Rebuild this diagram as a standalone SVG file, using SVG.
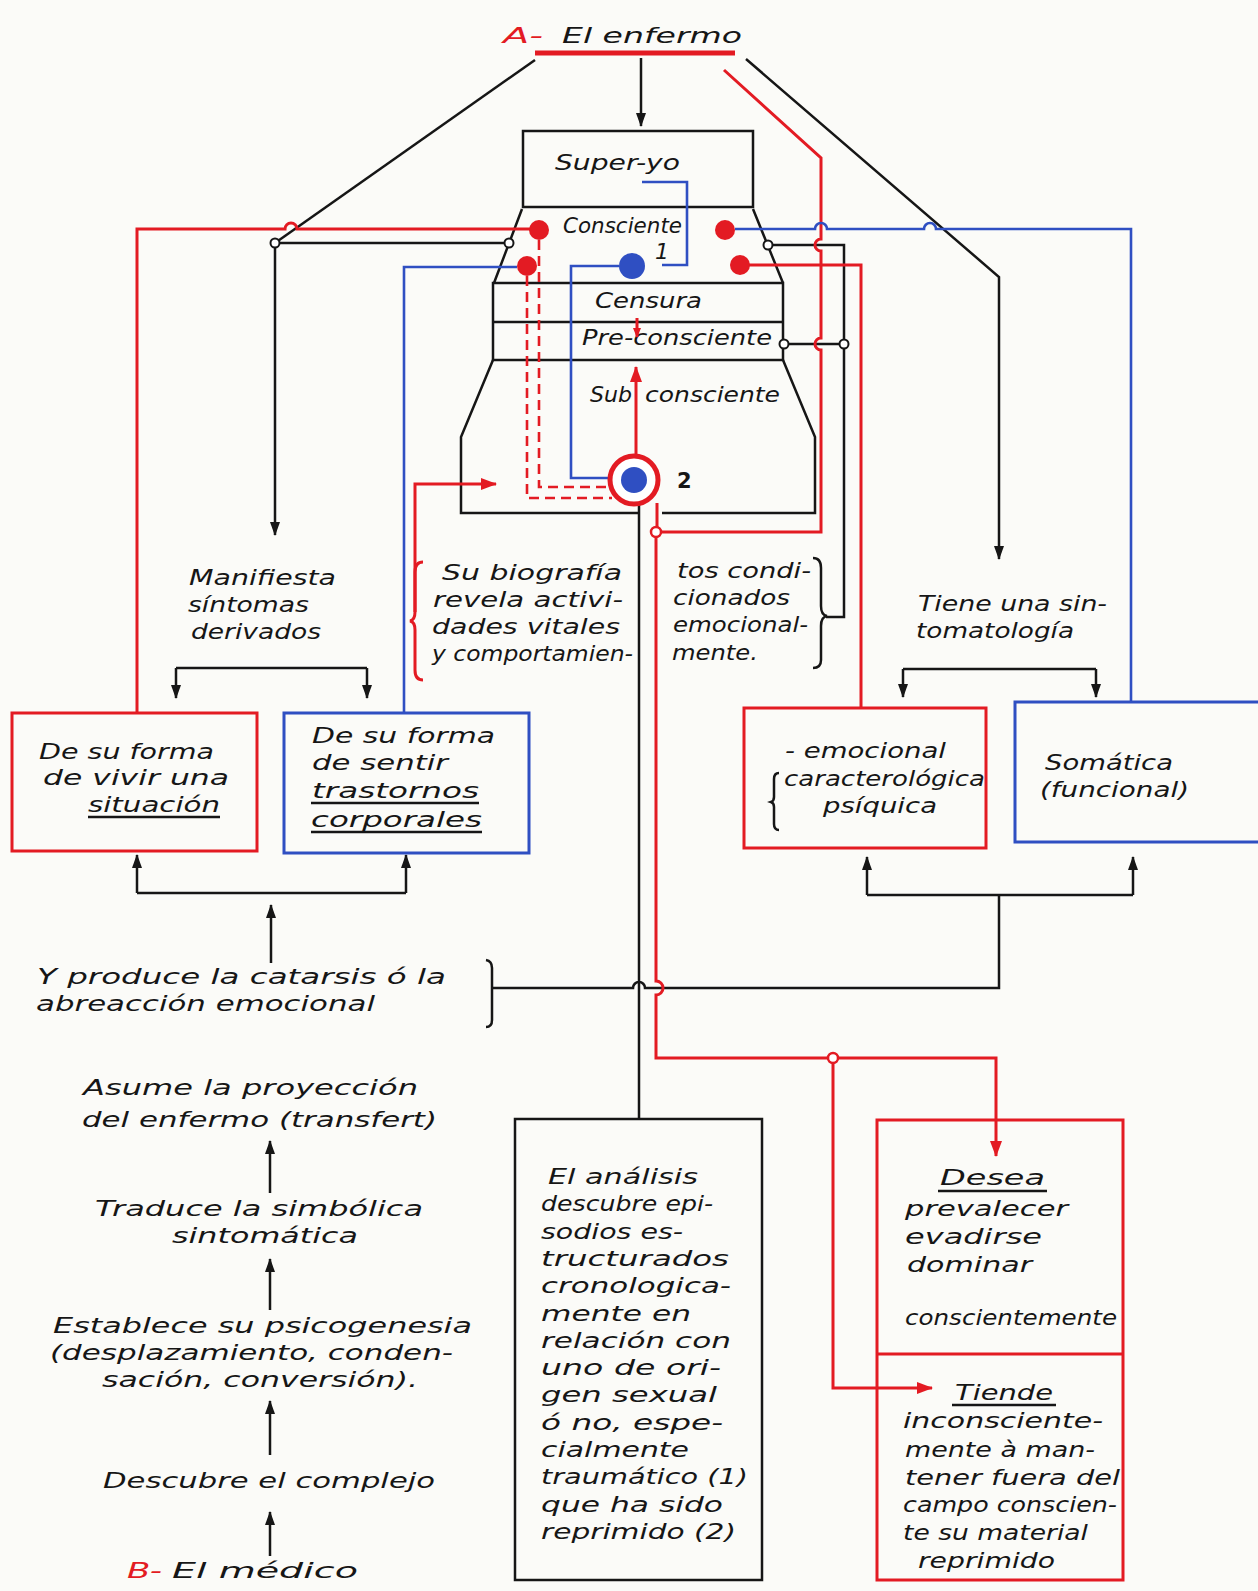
<svg xmlns="http://www.w3.org/2000/svg" width="1258" height="1591" viewBox="0 0 1258 1591">
<style>
.k{stroke:#161616;stroke-width:2.5;fill:none}
.r{stroke:#e31b23;stroke-width:3;fill:none}
.b{stroke:#2f4fc2;stroke-width:2.6;fill:none}
.d{stroke:#e31b23;stroke-width:2.6;fill:none;stroke-dasharray:10 6}
.t{font-family:"DejaVu Sans","Liberation Sans",Arial,sans-serif;font-style:oblique;font-size:22px;fill:#161616}
.tr{fill:#e31b23}
.jk{fill:#fff;stroke:#161616;stroke-width:2}
.jr{fill:#fff;stroke:#e31b23;stroke-width:2.5}
.dr{fill:#e31b23}
.db{fill:#2f4fc2}
</style>
<defs>
<marker id="ak" markerWidth="14" markerHeight="12" refX="13" refY="6" orient="auto" markerUnits="userSpaceOnUse"><path d="M0,1 L14,6 L0,11 z" fill="#161616"/></marker>
<marker id="ar" markerWidth="16" markerHeight="14" refX="15" refY="7" orient="auto" markerUnits="userSpaceOnUse"><path d="M0,1 L16,7 L0,13 z" fill="#e31b23"/></marker>
<marker id="ar2" markerWidth="10" markerHeight="10" refX="9" refY="5" orient="auto" markerUnits="userSpaceOnUse"><path d="M0,1 L10,5 L0,9 z" fill="#e31b23"/></marker>
</defs>
<rect width="1258" height="1591" fill="#fbfbf8"/>

<g id="title">
<text class="t tr" x="503" y="43" font-size="34" textLength="40" lengthAdjust="spacingAndGlyphs">A-</text>
<text class="t" x="562" y="43" font-size="32" textLength="180" lengthAdjust="spacingAndGlyphs">El enfermo</text>
<path d="M535,53 H735" stroke="#e31b23" stroke-width="5"/>
</g>

<g id="psyche">
<rect class="k" x="523" y="131" width="230" height="76"/>
<text class="t" x="555" y="170" font-size="24" textLength="125" lengthAdjust="spacingAndGlyphs">Super-yo</text>
<path class="k" d="M522,209 L494,283 M753,209 L783,283"/>
<text class="t" x="563" y="233" textLength="119" lengthAdjust="spacingAndGlyphs">Consciente</text>
<text class="t" x="655" y="259" font-size="17">1</text>
<rect class="k" x="493" y="283" width="290" height="77"/>
<path class="k" d="M493,322 H783"/>
<text class="t" x="595" y="308" textLength="107" lengthAdjust="spacingAndGlyphs">Censura</text>
<text class="t" x="582" y="345" textLength="190" lengthAdjust="spacingAndGlyphs">Pre-consciente</text>
<path class="k" d="M493,360 L461,437 V513 H640 M662,513 H815 V437 L783,360"/>
<text class="t" x="590" y="402" textLength="42" lengthAdjust="spacingAndGlyphs">Sub</text>
<text class="t" x="645" y="402" textLength="135" lengthAdjust="spacingAndGlyphs">consciente</text>
<text x="677" y="488" font-family="DejaVu Sans,Liberation Sans,Arial,sans-serif" font-weight="bold" font-size="21" fill="#161616">2</text>
</g>

<g id="connectors">
<path class="k" d="M641,58 V126" marker-end="url(#ak)"/>
<path class="k" d="M535,60 L275,243"/>
<path class="k" d="M275,243 H509"/>
<path class="k" d="M275,243 V535" marker-end="url(#ak)"/>
<path class="k" d="M746,59 L999,277 V559" marker-end="url(#ak)"/>
<path class="k" d="M768,245 H844 V617 H826"/>
<path class="k" d="M784,344 H844"/>
<path class="k" d="M813,558 Q821,558 821,568 V606 Q821,615 827,616 Q821,617 821,626 V660 Q821,668 813,668"/>
<path class="k" d="M639,505 V1119"/>
<path class="k" d="M486,960 Q492,961 492,968 V1020 Q492,1027 486,1027"/>
<path class="k" d="M492,988 H633 A6,6 0 0 1 645,988 H999 V895"/>
<path class="k" d="M867,895 H1133"/>
<path class="k" d="M867,895 V857" marker-end="url(#ak)"/>
<path class="k" d="M1133,895 V857" marker-end="url(#ak)"/>
<path class="k" d="M137,893 H406"/>
<path class="k" d="M137,893 V855" marker-end="url(#ak)"/>
<path class="k" d="M406,893 V855" marker-end="url(#ak)"/>
<path class="k" d="M271,963 V905" marker-end="url(#ak)"/>
<path class="k" d="M176,668 H367"/>
<path class="k" d="M176,668 V698" marker-end="url(#ak)"/>
<path class="k" d="M367,668 V698" marker-end="url(#ak)"/>
<path class="k" d="M903,669 H1096"/>
<path class="k" d="M903,669 V697" marker-end="url(#ak)"/>
<path class="k" d="M1096,669 V697" marker-end="url(#ak)"/>
<path class="k" d="M270,1193 V1141" marker-end="url(#ak)"/>
<path class="k" d="M270,1310 V1259" marker-end="url(#ak)"/>
<path class="k" d="M270,1455 V1401" marker-end="url(#ak)"/>
<path class="k" d="M270,1556 V1512" marker-end="url(#ak)"/>
<circle class="jk" cx="275" cy="243" r="4.5"/>
<circle class="jk" cx="509" cy="243" r="4.5"/>
<circle class="jk" cx="768" cy="245" r="4.5"/>
<circle class="jk" cx="784" cy="344" r="4.5"/>
<circle class="jk" cx="844" cy="344" r="4.5"/>
<path class="r" d="M539,229 H297 A6,6 0 0 0 285,229 H137 V713"/>
<path class="r" d="M724,70 L821,158 V239 A6,6 0 0 0 821,251 V338 A6,6 0 0 0 821,350 V532 H661"/>
<path class="r" d="M740,265 H861 V708"/>
<path class="d" d="M539,240 V487 H607"/>
<path class="d" d="M527,276 V498 H612"/>
<path class="r" d="M636,456 V367" marker-end="url(#ar)"/>
<path class="r" stroke-width="2.5" d="M637,318 V337" marker-end="url(#ar2)"/>
<path class="r" d="M657,503 V527"/>
<path class="r" d="M656,537 V981 A7,7 0 0 1 656,995 V1058 H828 M838,1058 H996 V1156" marker-end="url(#ar)"/>
<path class="r" d="M833,1063 V1388 H932" marker-end="url(#ar)"/>
<path class="r" d="M423,562 Q415,562 415,572 V612 Q415,620 410,621 Q415,622 415,630 V670 Q415,680 423,680"/>
<path class="r" d="M415,612 V484 H496" marker-end="url(#ar)"/>
<circle class="jr" cx="656" cy="532" r="5"/>
<circle class="jr" cx="833" cy="1058" r="5"/>
<path class="b" d="M642,182 H687 V265 H662"/>
<path class="b" d="M619,266 H571 V478 H621"/>
<path class="b" d="M517,267 H404 V713"/>
<path class="b" d="M735,229 H815 A6,6 0 0 1 827,229 H924 A6,6 0 0 1 936,229 H1131 V702"/>
<circle class="dr" cx="539" cy="230" r="10"/>
<circle class="dr" cx="527" cy="266" r="10"/>
<circle class="dr" cx="725" cy="230" r="10"/>
<circle class="dr" cx="740" cy="265" r="10"/>
<circle class="db" cx="632" cy="266" r="13"/>
<circle cx="634" cy="480" r="24" fill="#fff" stroke="#e31b23" stroke-width="5"/>
<circle class="db" cx="634" cy="480" r="13"/>
</g>

<g id="manifiesta">
<text class="t" x="189" y="585" textLength="147" lengthAdjust="spacingAndGlyphs">Manifiesta</text>
<text class="t" x="188" y="612" textLength="121" lengthAdjust="spacingAndGlyphs">síntomas</text>
<text class="t" x="191" y="639" textLength="130" lengthAdjust="spacingAndGlyphs">derivados</text>
</g>

<g id="biografia">
<text class="t" x="442" y="580" textLength="180" lengthAdjust="spacingAndGlyphs">Su biografía</text>
<text class="t" x="433" y="607" textLength="190" lengthAdjust="spacingAndGlyphs">revela activi-</text>
<text class="t" x="432" y="634" textLength="188" lengthAdjust="spacingAndGlyphs">dades vitales</text>
<text class="t" x="432" y="661" textLength="201" lengthAdjust="spacingAndGlyphs">y comportamien-</text>
<text class="t" x="677" y="578" textLength="134" lengthAdjust="spacingAndGlyphs">tos condi-</text>
<text class="t" x="673" y="605" textLength="117" lengthAdjust="spacingAndGlyphs">cionados</text>
<text class="t" x="673" y="632" textLength="135" lengthAdjust="spacingAndGlyphs">emocional-</text>
<text class="t" x="672" y="660" textLength="86" lengthAdjust="spacingAndGlyphs">mente.</text>
</g>

<g id="sintomatologia">
<text class="t" x="918" y="611" textLength="189" lengthAdjust="spacingAndGlyphs">Tiene una sin-</text>
<text class="t" x="916" y="638" textLength="158" lengthAdjust="spacingAndGlyphs">tomatología</text>
</g>

<g id="box-vivir">
<rect x="12" y="713" width="245" height="138" fill="none" stroke="#e31b23" stroke-width="3"/>
<text class="t" x="39" y="759" textLength="175" lengthAdjust="spacingAndGlyphs">De su forma</text>
<text class="t" x="43" y="785" textLength="186" lengthAdjust="spacingAndGlyphs">de vivir una</text>
<text class="t" x="88" y="812" textLength="132" lengthAdjust="spacingAndGlyphs">situación</text>
<path class="k" d="M88,817 H220"/>
</g>

<g id="box-sentir">
<rect x="284" y="713" width="245" height="140" fill="none" stroke="#2f4fc2" stroke-width="3"/>
<text class="t" x="312" y="743" textLength="183" lengthAdjust="spacingAndGlyphs">De su forma</text>
<text class="t" x="312" y="770" textLength="136" lengthAdjust="spacingAndGlyphs">de sentir</text>
<text class="t" x="312" y="798" textLength="167" lengthAdjust="spacingAndGlyphs">trastornos</text>
<path class="k" d="M311,803 H479"/>
<text class="t" x="311" y="827" textLength="171" lengthAdjust="spacingAndGlyphs">corporales</text>
<path class="k" d="M311,832 H482"/>
</g>

<g id="box-emocional">
<rect x="744" y="708" width="242" height="140" fill="none" stroke="#e31b23" stroke-width="3"/>
<text class="t" x="785" y="758" textLength="161" lengthAdjust="spacingAndGlyphs">- emocional</text>
<text class="t" x="784" y="786" textLength="201" lengthAdjust="spacingAndGlyphs">caracterológica</text>
<text class="t" x="823" y="813" textLength="114" lengthAdjust="spacingAndGlyphs">psíquica</text>
<path class="k" stroke-width="2" d="M779,773 Q774,773 774,779 V797 Q774,801 771,802 Q774,803 774,807 V824 Q774,830 779,830"/>
</g>

<g id="box-somatica">
<path d="M1262,702 H1015 V842 H1262" fill="none" stroke="#2f4fc2" stroke-width="3"/>
<text class="t" x="1045" y="770" textLength="128" lengthAdjust="spacingAndGlyphs">Somática</text>
<text class="t" x="1040" y="797" textLength="149" lengthAdjust="spacingAndGlyphs">(funcional)</text>
</g>

<g id="catarsis">
<text class="t" x="37" y="984" textLength="409" lengthAdjust="spacingAndGlyphs">Y produce la catarsis ó la</text>
<text class="t" x="36" y="1011" textLength="339" lengthAdjust="spacingAndGlyphs">abreacción emocional</text>
</g>

<g id="medico-chain">
<text class="t" x="83" y="1095" textLength="335" lengthAdjust="spacingAndGlyphs">Asume la proyección</text>
<text class="t" x="82" y="1127" textLength="355" lengthAdjust="spacingAndGlyphs">del enfermo (transfert)</text>
<text class="t" x="95" y="1216" textLength="328" lengthAdjust="spacingAndGlyphs">Traduce la simbólica</text>
<text class="t" x="172" y="1243" textLength="186" lengthAdjust="spacingAndGlyphs">sintomática</text>
<text class="t" x="53" y="1333" textLength="419" lengthAdjust="spacingAndGlyphs">Establece su psicogenesia</text>
<text class="t" x="50" y="1360" textLength="403" lengthAdjust="spacingAndGlyphs">(desplazamiento, conden-</text>
<text class="t" x="102" y="1387" textLength="316" lengthAdjust="spacingAndGlyphs">sación, conversión).</text>
<text class="t" x="103" y="1488" textLength="332" lengthAdjust="spacingAndGlyphs">Descubre el complejo</text>
<text class="t tr" x="127" y="1578" font-size="30" textLength="35" lengthAdjust="spacingAndGlyphs">B-</text>
<text class="t" x="172" y="1578" font-size="28" textLength="186" lengthAdjust="spacingAndGlyphs">El médico</text>
</g>

<g id="box-analisis">
<rect class="k" x="515" y="1119" width="247" height="461"/>
<text class="t" x="548" y="1184" textLength="150" lengthAdjust="spacingAndGlyphs">El análisis</text>
<text class="t" x="541" y="1211" textLength="172" lengthAdjust="spacingAndGlyphs">descubre epi-</text>
<text class="t" x="541" y="1239" textLength="142" lengthAdjust="spacingAndGlyphs">sodios es-</text>
<text class="t" x="541" y="1266" textLength="188" lengthAdjust="spacingAndGlyphs">tructurados</text>
<text class="t" x="541" y="1293" textLength="190" lengthAdjust="spacingAndGlyphs">cronologica-</text>
<text class="t" x="541" y="1321" textLength="150" lengthAdjust="spacingAndGlyphs">mente en</text>
<text class="t" x="541" y="1348" textLength="190" lengthAdjust="spacingAndGlyphs">relación con</text>
<text class="t" x="541" y="1375" textLength="180" lengthAdjust="spacingAndGlyphs">uno de ori-</text>
<text class="t" x="541" y="1402" textLength="176" lengthAdjust="spacingAndGlyphs">gen sexual</text>
<text class="t" x="541" y="1430" textLength="182" lengthAdjust="spacingAndGlyphs">ó no, espe-</text>
<text class="t" x="541" y="1457" textLength="148" lengthAdjust="spacingAndGlyphs">cialmente</text>
<text class="t" x="541" y="1484" textLength="207" lengthAdjust="spacingAndGlyphs">traumático (1)</text>
<text class="t" x="541" y="1512" textLength="182" lengthAdjust="spacingAndGlyphs">que ha sido</text>
<text class="t" x="541" y="1539" textLength="195" lengthAdjust="spacingAndGlyphs">reprimido (2)</text>
</g>

<g id="box-desea">
<rect x="877" y="1120" width="246" height="460" fill="none" stroke="#e31b23" stroke-width="3"/>
<path d="M877,1354 H1123" stroke="#e31b23" stroke-width="3"/>
<text class="t" x="940" y="1185" textLength="105" lengthAdjust="spacingAndGlyphs">Desea</text>
<path class="k" d="M938,1191 H1047"/>
<text class="t" x="905" y="1216" textLength="163" lengthAdjust="spacingAndGlyphs">prevalecer</text>
<text class="t" x="905" y="1244" textLength="137" lengthAdjust="spacingAndGlyphs">evadirse</text>
<text class="t" x="907" y="1272" textLength="125" lengthAdjust="spacingAndGlyphs">dominar</text>
<text class="t" x="905" y="1325" textLength="212" lengthAdjust="spacingAndGlyphs">conscientemente</text>
<text class="t" x="955" y="1400" textLength="98" lengthAdjust="spacingAndGlyphs">Tiende</text>
<path class="k" d="M952,1405 H1056"/>
<text class="t" x="903" y="1428" textLength="200" lengthAdjust="spacingAndGlyphs">inconsciente-</text>
<text class="t" x="905" y="1457" textLength="190" lengthAdjust="spacingAndGlyphs">mente à man-</text>
<text class="t" x="905" y="1485" textLength="215" lengthAdjust="spacingAndGlyphs">tener fuera del</text>
<text class="t" x="903" y="1512" textLength="214" lengthAdjust="spacingAndGlyphs">campo conscien-</text>
<text class="t" x="903" y="1540" textLength="185" lengthAdjust="spacingAndGlyphs">te su material</text>
<text class="t" x="918" y="1568" textLength="137" lengthAdjust="spacingAndGlyphs">reprimido</text>
</g>
</svg>
